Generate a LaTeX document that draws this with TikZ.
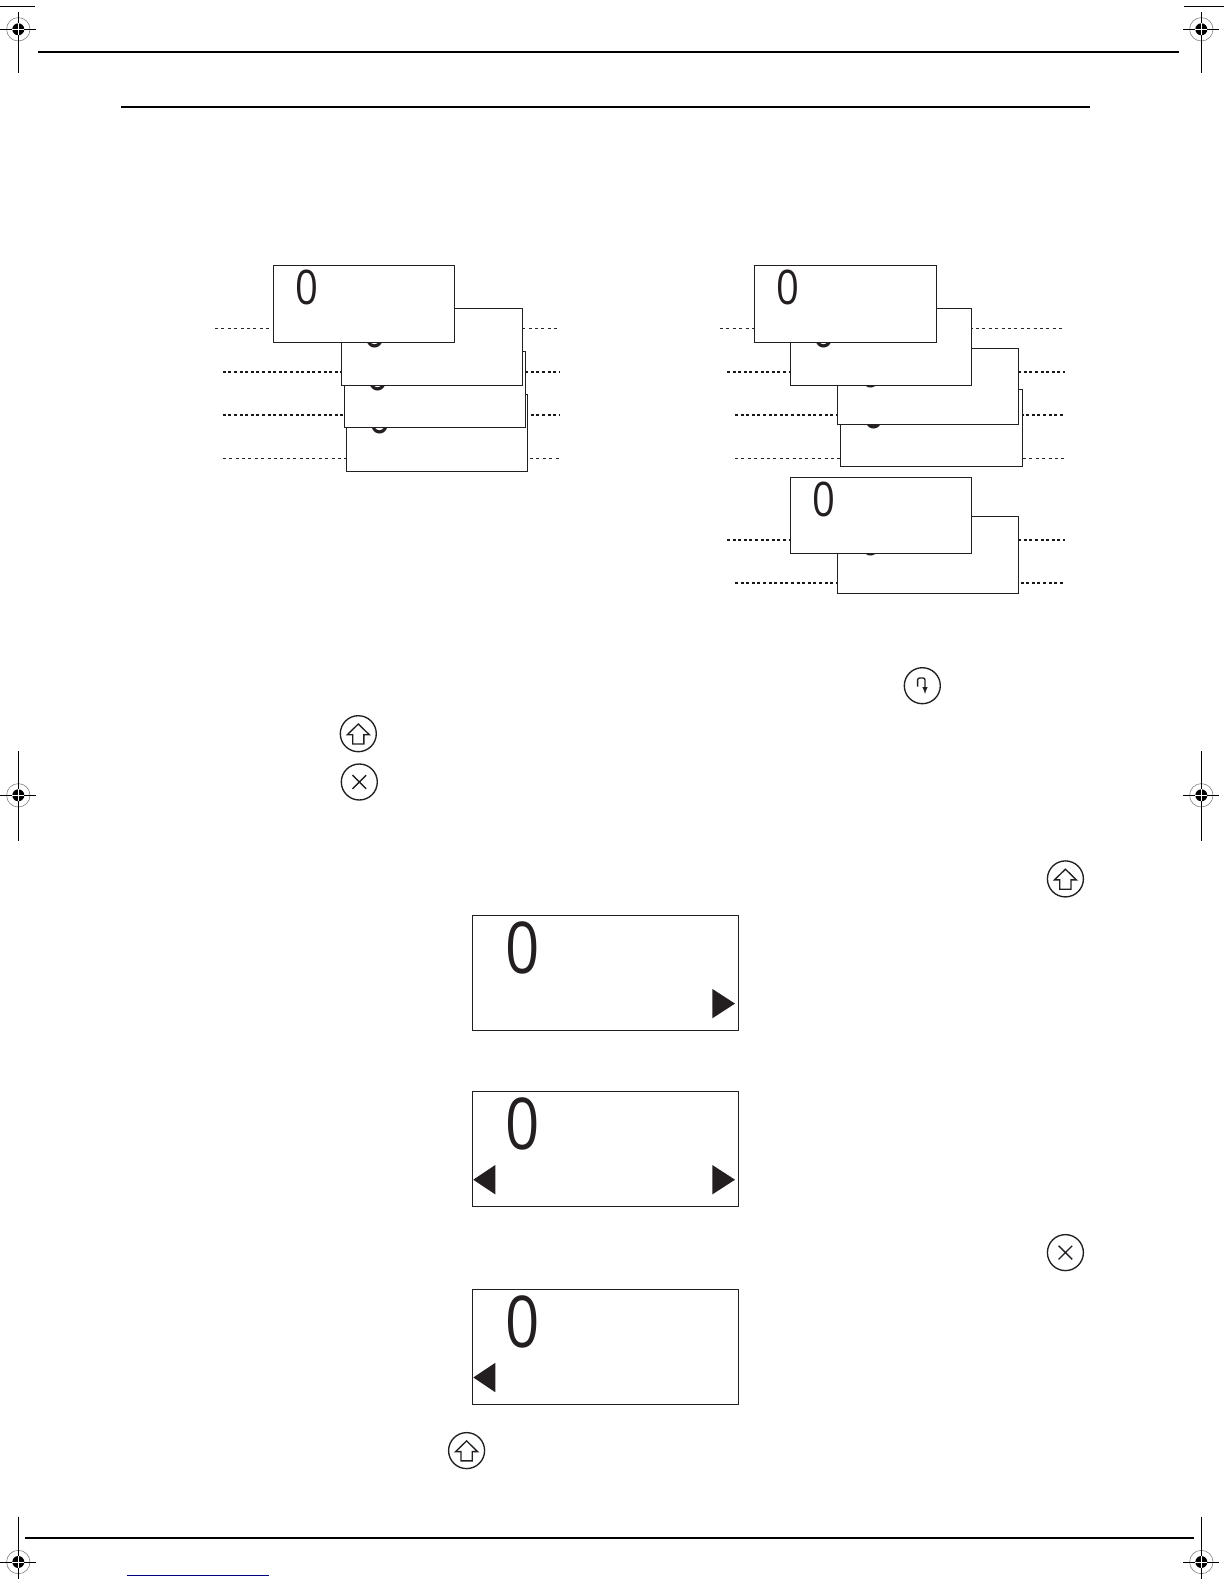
\documentclass[tikz,border=0pt]{standalone}
\usepackage{fontspec}
\newfontfamily\zerofont{Open Sans}
\usetikzlibrary{calc}
\definecolor{ink}{HTML}{231F20}
\tikzset{
  x=1pt,y=-1pt,
  panel/.style={draw=ink,fill=white,line width=1.1pt,anchor=north west,inner sep=0pt,outer sep=0pt},
  zerosmall/.style={text=ink,inner sep=0pt,font=\zerofont\fontsize{47.6}{48}\selectfont,xscale=.84},
  zerobig/.style={text=ink,inner sep=0pt,font=\zerofont\fontsize{71.4}{72}\selectfont,xscale=.84},
  thinrule/.style={line width=.85pt,black!85,dash pattern=on 3pt off 3.4pt},
  boldrule/.style={line width=1.6pt,black!90,dash pattern=on 3pt off 2.6pt},
  keyring/.style={circle,draw=ink,line width=1.35pt,minimum size=36pt,inner sep=0pt,fill=white},
  keyglyph/.style={draw=ink,line width=1.35pt,line join=miter},
  headrule/.style={black,line width=2pt},
  crop/.style={black,line width=.9pt},
  pointer/.style={fill=ink,draw=none},
}
% small panel with its digit: name, x, y, width, height
\newcommand{\smallpanel}[5]{%
  \node[panel,minimum width=#4pt,minimum height=#5pt] (#1) at (#2,#3) {};
  \node[zerosmall] (#1z) at ($(#1.north west)+(33.8,21.8)$) {0};
}
\newcommand{\bigpanel}[3]{%
  \node[panel,minimum width=266pt,minimum height=114.8pt] (#1) at (#2,#3) {};
  \node[zerobig] (#1z) at ($(#1.north west)+(50,32.1)$) {0};
}
\newcommand{\regmark}[4]{% name, x, y, upward extent of the vertical hair
  \coordinate (#1) at (#2,#3);
  \draw[gray,line width=.6pt] (#1) circle[radius=11.7];
  \fill[black] (#1) circle[radius=6];
  \draw[white,line width=.7pt] ($(#1)+(-6,0)$) -- ($(#1)+(6,0)$) ($(#1)+(0,-6)$) -- ($(#1)+(0,6)$);
  \draw[crop] ($(#1)+(-18,0)$) -- ($(#1)+(-6,0)$) ($(#1)+(6,0)$) -- ($(#1)+(18,0)$);
  \draw[crop] ($(#1)+(0,#4)$) -- ($(#1)+(0,-6)$);
}
\newcommand{\homekey}[3]{%
  \node[keyring] (#1) at (#2,#3) {};
  \draw[keyglyph] ($(#1)+(0,-9.7)$) -- ++(11,10.7) -- ++(-5.4,0) -- ++(0,9.3) -- ++(-11.2,0) -- ++(0,-9.3) -- ++(-5.4,0) -- cycle;
}
\newcommand{\crosskey}[3]{%
  \node[keyring] (#1) at (#2,#3) {};
  \draw[keyglyph] ($(#1)+(-6.8,-6.8)$) -- ($(#1)+(6.8,6.8)$) ($(#1)+(6.8,-6.8)$) -- ($(#1)+(-6.8,6.8)$);
}
\begin{document}
\begin{tikzpicture}
\useasboundingbox (0,0) rectangle (1224,1584);

% page furniture
\coordinate (ha) at (38,51.7);  \coordinate (hb) at (1179,51.7);
\coordinate (hc) at (121,106.7); \coordinate (hd) at (1089.7,106.7);
\coordinate (fa) at (25,1537.7); \coordinate (fb) at (1194,1537.7);
\coordinate (ta) at (0,6.3); \coordinate (tb) at (35,6.3);
\coordinate (tc) at (1184,6.3); \coordinate (td) at (1224,6.3);
\coordinate (ba) at (127,1575.3); \coordinate (bb) at (269,1575.3);
\draw[headrule] (ha) -- (hb);
\draw[headrule,line width=1.7pt] (hc) -- (hd);
\draw[headrule] (fa) -- (fb);
\draw[crop] (ta) -- (tb);
\draw[crop] (tc) -- (td);
\draw[color=blue!50!black,line width=1pt] (ba) -- (bb);

% registration marks
\regmark{m1}{18.3}{29.3}{-17.3}
\draw[crop] (m1) ++(0,6) -- (18.3,73.5);
\regmark{m2}{1201.3}{29.3}{-17.3}
\draw[crop] (m2) ++(0,6) -- (1201.3,73.5);
\regmark{m3}{18.3}{795.3}{-44.3}
\draw[crop] (m3) ++(0,6) -- (18.3,840.7);
\regmark{m4}{1201.3}{795.3}{-44.3}
\draw[crop] (m4) ++(0,6) -- (1201.3,840.7);
\regmark{m5}{18.3}{1562}{-45.3}
\draw[crop] (m5) ++(0,6) -- (18.3,1578.7);
\regmark{m6}{1201.3}{1562}{-45.3}
\draw[crop] (m6) ++(0,6) -- (1201.3,1578.7);

% left stack rules
\coordinate (la1) at (215,328.3);   \coordinate (ra1) at (560,328.3);
\coordinate (la2) at (222.7,371.7); \coordinate (ra2) at (560,371.7);
\coordinate (la3) at (222.7,414.7); \coordinate (ra3) at (560,414.7);
\coordinate (la4) at (222.7,458.3); \coordinate (ra4) at (560,458.3);
\draw[thinrule] (la1) -- (ra1);
\draw[boldrule] (la2) -- (ra2);
\draw[boldrule] (la3) -- (ra3);
\draw[thinrule] (la4) -- (ra4);
% right stack rules
\coordinate (lb1) at (720,328.3); \coordinate (rb1) at (1065,328.3);
\coordinate (lb2) at (727,371.7); \coordinate (rb2) at (1065,371.7);
\coordinate (lb3) at (735,414.7); \coordinate (rb3) at (1065,414.7);
\coordinate (lb4) at (735,458.3); \coordinate (rb4) at (1065,458.3);
\coordinate (lb5) at (727,539.7); \coordinate (rb5) at (1065,539.7);
\coordinate (lb6) at (735,582.7); \coordinate (rb6) at (1065,582.7);
\draw[thinrule] (lb1) -- (rb1);
\draw[boldrule] (lb2) -- (rb2);
\draw[boldrule] (lb3) -- (rb3);
\draw[thinrule] (lb4) -- (rb4);
\draw[boldrule] (lb5) -- (rb5);
\draw[boldrule] (lb6) -- (rb6);

% left stack, back to front
\smallpanel{ld}{346.3}{394.3}{181}{77}
\smallpanel{lc}{344.3}{351.3}{181}{76}
\smallpanel{lb}{341.3}{308.3}{181.4}{77}
\smallpanel{la}{273.3}{265.3}{181.4}{77}
% right stack, back to front
\smallpanel{rd}{840.3}{389.3}{182.4}{77}
\smallpanel{rc}{837.3}{348.3}{181}{76}
\smallpanel{rb}{790.3}{308.3}{181.4}{77}
\smallpanel{ra}{754.3}{265.3}{182.4}{77}
\smallpanel{rf}{837.3}{516.3}{181}{77}
\smallpanel{re}{790.3}{477.3}{181.4}{76}

% large panels
\bigpanel{pa}{472.3}{915.6}
\bigpanel{pb}{472.3}{1091.7}
\bigpanel{pc}{472.3}{1289.5}
\fill[pointer] ($(pa.north west)+(240,73.3)$) -- ++(22.7,14.7) -- ++(-22.7,14.7) -- cycle;
\fill[pointer] ($(pb.north west)+(240,73.3)$) -- ++(22.7,14.7) -- ++(-22.7,14.7) -- cycle;
\fill[pointer] ($(pb.north west)+(23,73.3)$) -- ++(-22,14.7) -- ++(22,14.7) -- cycle;
\fill[pointer] ($(pc.north west)+(23,73.3)$) -- ++(-22,14.7) -- ++(22,14.7) -- cycle;

% keys
\node[keyring] (ret) at (922.3,685.7) {};
\draw[keyglyph,-latex,rounded corners=2pt] ($(ret)+(-4.7,1)$) -- ++(0,-8.7) -- ++(7.4,0) -- ++(0,16);
\homekey{h1}{358.3}{733.7}
\crosskey{x1}{359.3}{782}
\homekey{h2}{1065.4}{878.9}
\crosskey{x2}{1065.4}{1252.6}
\homekey{h3}{466.6}{1450.6}
\end{tikzpicture}
\end{document}
